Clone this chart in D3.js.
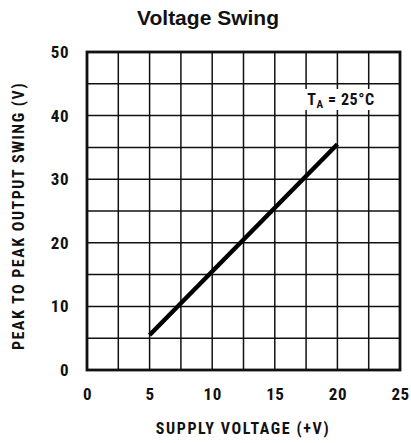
<!DOCTYPE html>
<html>
<head>
<meta charset="utf-8">
<script src="https://cdn.jsdelivr.net/npm/d3@7"></script>
<style>
  body { margin: 0; background: #fff; }
  text { fill: #111; }
</style>
</head>
<body>
<script>
// data
var supplyVoltage = [5, 20];
var outputSwing = [5.5, 35.5];
var xTicks = [0, 5, 10, 15, 20, 25];
var yTicks = [0, 10, 20, 30, 40, 50];

var cond = "'Liberation Sans Narrow', 'Roboto Condensed', 'DejaVu Sans Condensed', sans-serif";

var svg = d3.select("body")
            .append("svg")
            .attr("width", 411)
            .attr("height", 443);

var pLeft = 87, pRight = 400, pTop = 52, pBottom = 370;

var x = d3.scaleLinear().domain([0, 25]).range([pLeft, pRight]);
var y = d3.scaleLinear().domain([0, 50]).range([pBottom, pTop]);

// title
svg.append("text")
   .attr("x", 208).attr("y", 25)
   .attr("text-anchor", "middle")
   .style("font-family", "Arial, 'Liberation Sans', sans-serif")
   .style("font-weight", "bold")
   .style("font-size", "21px")
   .attr("fill", "#222")
   .text("Voltage Swing");

// grid lines
var grid = svg.append("g").attr("stroke", "#111").attr("stroke-width", 1.5);

grid.selectAll("line.v")
    .data(d3.range(2.5, 25, 2.5))
    .enter().append("line")
    .attr("class", "v")
    .attr("x1", function(d) { return x(d); })
    .attr("x2", function(d) { return x(d); })
    .attr("y1", pTop).attr("y2", pBottom);

grid.selectAll("line.h")
    .data(d3.range(5, 50, 5))
    .enter().append("line")
    .attr("class", "h")
    .attr("y1", function(d) { return y(d); })
    .attr("y2", function(d) { return y(d); })
    .attr("x1", pLeft).attr("x2", pRight);

// frame
svg.append("rect")
   .attr("x", pLeft).attr("y", pTop)
   .attr("width", pRight - pLeft).attr("height", pBottom - pTop)
   .attr("fill", "none")
   .attr("stroke", "#111")
   .attr("stroke-width", 2.8);

// axes, tick labels only
var xAxis = svg.append("g")
   .attr("transform", "translate(0," + pBottom + ")")
   .call(d3.axisBottom(x).tickValues(xTicks).tickSize(0).tickPadding(18));
var yAxis = svg.append("g")
   .attr("transform", "translate(" + pLeft + ",0)")
   .call(d3.axisLeft(y).tickValues(yTicks).tickSize(0).tickPadding(18));

[xAxis, yAxis].forEach(function(a) {
  a.select(".domain").remove();
  a.selectAll("text")
   .style("font-family", cond)
   .style("font-weight", "bold")
   .style("font-size", "17px")
   .style("letter-spacing", "0.5px")
   .attr("fill", "#111");
});

// annotation box
var note = svg.append("g");
note.append("rect")
    .attr("x", 303).attr("y", 89)
    .attr("width", 78).attr("height", 21)
    .attr("fill", "#fff");
var t = note.append("text")
    .attr("x", 341).attr("y", 105)
    .attr("text-anchor", "middle")
    .style("font-family", cond)
    .style("font-weight", "bold")
    .style("font-size", "16px")
    .style("letter-spacing", "0.6px");
t.append("tspan").text("T");
t.append("tspan").attr("dy", 3).style("font-size", "11px").text("A");
t.append("tspan").attr("dy", -3).text(" = 25°C");

// data line
var line = d3.line()
             .x(function(d) { return x(d[0]); })
             .y(function(d) { return y(d[1]); });

svg.append("path")
   .datum(d3.zip(supplyVoltage, outputSwing))
   .attr("d", line)
   .attr("fill", "none")
   .attr("stroke", "#000")
   .attr("stroke-width", 4.5);

// axis titles
svg.append("text")
   .attr("x", 243).attr("y", 434)
   .attr("text-anchor", "middle")
   .style("font-family", cond)
   .style("font-weight", "bold")
   .style("font-size", "16px")
   .style("letter-spacing", "1.6px")
   .text("SUPPLY VOLTAGE (+V)");

svg.append("text")
   .attr("transform", "translate(24,216) rotate(-90)")
   .attr("text-anchor", "middle")
   .style("font-family", cond)
   .style("font-weight", "bold")
   .style("font-size", "16px")
   .style("letter-spacing", "1.5px")
   .text("PEAK TO PEAK OUTPUT SWING (V)");
</script>
</body>
</html>
